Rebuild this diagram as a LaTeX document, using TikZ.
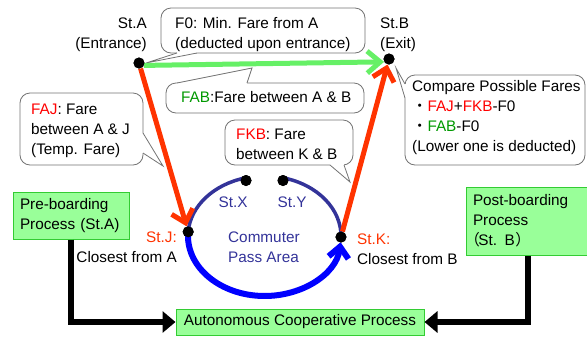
\documentclass[tikz,border=0pt]{standalone}
\usepackage{fontspec}
\setmainfont{Liberation Sans}
\newfontfamily\cjk{Noto Sans CJK JP}
\usetikzlibrary{arrows.meta,calc}
\definecolor{fare}{RGB}{255,0,0}
\definecolor{route}{RGB}{255,51,0}
\definecolor{direct}{RGB}{102,240,102}
\definecolor{faregreen}{RGB}{0,153,0}
\definecolor{navy}{RGB}{51,51,153}
\definecolor{pass}{RGB}{0,0,255}
\definecolor{procfill}{RGB}{153,255,153}
\definecolor{procedge}{RGB}{51,204,51}
\begin{document}
\begin{tikzpicture}[x=1pt,y=-1pt,
  font=\fontsize{15.3}{20}\selectfont,
  every node/.style={inner sep=0pt},
  station/.style={circle,fill=black,minimum size=11pt},
  lbl/.style={anchor=base west,align=left},
  bubble/.style={fill=white,draw=black!55,line width=0.8pt,rounded corners=10pt},
  wedge/.style={draw=black!55,line width=0.8pt,line join=miter},
  routeline/.style={draw=route,line width=5pt,-{Straight Barb[length=12pt,width=22pt]}},
  directline/.style={draw=direct,line width=5pt,-{Straight Barb[length=13pt,width=22pt]}},
  ringarc/.style={draw=navy,line width=3.5pt},
  passarc/.style={draw=pass,line width=6pt,-{Straight Barb[length=11pt,width=20pt]}},
  procbox/.style={fill=procfill,draw=procedge,line width=1pt},
  flow/.style={draw=black,line width=5.5pt,-{Triangle[length=13pt,width=21pt]}}
]
\useasboundingbox (0,0) rectangle (587,338);

% speech bubbles: rounded frames with their pointers
\draw[bubble] (161,8) rectangle (365,53);
\fill[white] (177,51) -- (177,53) -- (146,63) -- (197,53) -- (197,51) -- cycle;
\draw[wedge] (177,53) -- (146,63) -- (197,53);

\draw[bubble] (166,83) rectangle (364,113);
\fill[white] (177,84.5) -- (177,83) -- (252,68) -- (247,83) -- (247,84.5) -- cycle;
\draw[wedge] (177,83) -- (252,68) -- (247,83);

\draw[bubble] (20,93) rectangle (143,165);
\fill[white] (141.5,133) -- (143,133) -- (163,166) -- (143,153) -- (141.5,153) -- cycle;
\draw[wedge] (143,133) -- (163,166) -- (143,153);

\draw[bubble] (225,120) rectangle (353,165);
\fill[white] (330,163.5) -- (330,165) -- (350,182) -- (344,165) -- (344,163.5) -- cycle;
\draw[wedge] (330,165) -- (350,182) -- (344,165);

\draw[bubble] (405,75) rectangle (585,165);
\fill[white] (406.5,84) -- (405,84) -- (396,68) -- (405,98) -- (406.5,98) -- cycle;
\draw[wedge] (405,84) -- (396,68) -- (405,98);

% stations
\coordinate (ring) at (264.5,236);
\node[station] (A) at (139,63) {};
\node[station] (B) at (389,59) {};
\node[station] (J) at ($(ring)+(184:76.5 and 60)$) {};
\node[station] (K) at ($(ring)+(1:76.5 and 60)$) {};
\node[station] (X) at (246,180.5) {};
\node[station] (Y) at (283,180.5) {};

% commuter pass ring
\draw[ringarc] (J.center) arc[start angle=184,end angle=256,x radius=76.5,y radius=60];
\draw[ringarc] ($(ring)+(284:76.5 and 60)$) arc[start angle=284,end angle=361,x radius=76.5,y radius=60];
\draw[passarc] (J.center) arc[start angle=184,end angle=6,x radius=76.5,y radius=60];

% fare routes
\draw[directline] (A.-25) -- (B.210);
\draw[routeline] (A) -- (J);
\draw[routeline] (K) -- (B);

% dots on top of the lines
\foreach \s in {A,B,J,K,X,Y} \fill (\s) circle[radius=5.5pt];

% labels (multi-line nodes sit on the baseline of their last line)
\node[anchor=base east,align=right] (stA) at (147,48) {St.A\\(Entrance)};
\node[lbl] (stB) at (380,48) {St.B\\(Exit)};
\node[lbl] (f0) at (175,48) {F0: Min. Fare from A\\(deducted upon entrance)};
\node[lbl] (fab) at (181,102) {\textcolor{faregreen}{FAB}:Fare between A \& B};
\node[lbl] (faj) at (31,154) {\textcolor{fare}{FAJ}: Fare\\between A \& J\\(Temp. Fare)};
\node[lbl] (fkb) at (236,159) {\textcolor{fare}{FKB}: Fare\\between K \& B};
\node[lbl] (cmp) at (412,151) {Compare Possible Fares\\{\cjk ・}\textcolor{fare}{FAJ}+\textcolor{fare}{FKB}-F0\\{\cjk ・}\textcolor{faregreen}{FAB}-F0\\(Lower one is deducted)};
\node[anchor=base east,align=right] (jlab) at (177,262) {\textcolor{route}{St.J:}\\Closest from A};
\node[lbl] (klab) at (357,264) {\textcolor{route}{St.K:}\\Closest from B};
\node[anchor=base,text=navy] (xlab) at (233,207) {St.X};
\node[anchor=base,text=navy] (ylab) at (292,207) {St.Y};
\node[lbl,text=navy] (area) at (228,262) {Commuter\\Pass Area};

% process boxes
\node[procbox,align=left,text width=102pt,inner xsep=7pt,minimum height=47pt] (pre) at (71,215.5) {Pre-boarding\\Process (St.A)};
\node[procbox,align=left,text width=110pt,inner xsep=7pt,minimum height=68pt] (post) at (528,221) {Post-boarding\\Process\\\hspace*{-8.5pt}{\cjk （}\hspace{-1.5pt}St. B\hspace{0.5pt}{\cjk ）}};
\node[procbox,minimum width=248pt,minimum height=26pt] (auto) at (300,322) {Autonomous Cooperative Process};

\draw[flow] (pre.south) |- (auto.west);
\draw[flow] (post.south) |- (auto.east);
\end{tikzpicture}
\end{document}
